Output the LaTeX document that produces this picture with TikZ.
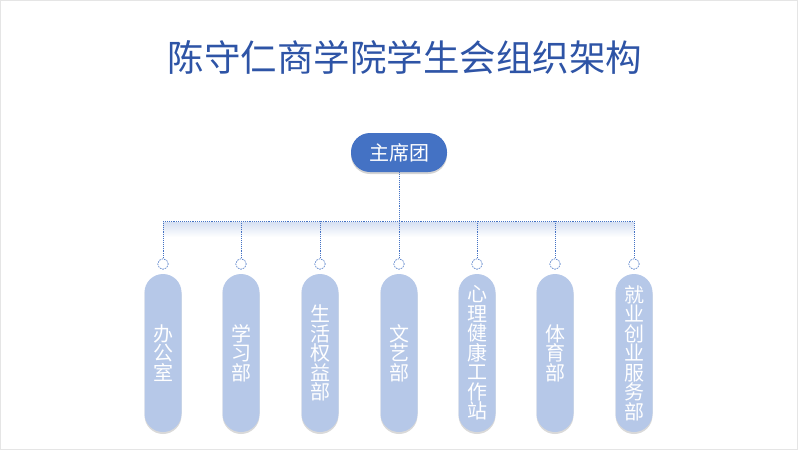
\documentclass[tikz,border=0pt]{standalone}
\usepackage{fontspec}
\newfontfamily\cjk{Noto Sans CJK SC}
\usepackage{xcolor}
\usetikzlibrary{shadows,positioning}
\definecolor{titleblue}{RGB}{46,84,166}
\definecolor{headblue}{RGB}{68,114,196}
\definecolor{pillblue}{RGB}{182,200,232}

\begin{document}
\begin{tikzpicture}[x=1pt,y=-1pt,font=\cjk,
  head/.style={fill=headblue,text=white,rounded corners=19pt,minimum width=96pt,minimum height=39pt,
    font=\cjk\fontsize{20}{22}\selectfont,drop shadow={opacity=0.35,shadow xshift=0pt,shadow yshift=-2pt}},
  dept/.style={fill=pillblue,text=white,rounded corners=18.5pt,minimum width=37pt,minimum height=158pt,
    inner sep=0pt,align=center,font=\cjk\fontsize{20}{19.5}\selectfont,
    drop shadow={opacity=0.3,shadow xshift=0pt,shadow yshift=-2pt}},
  knob/.style={circle,draw=headblue,dash pattern=on 1.6pt off 1pt,fill=white,inner sep=0pt,minimum size=10.5pt,line width=0.6pt},
  link/.style={headblue,densely dotted,line width=0.9pt}]
\useasboundingbox (0,0) rectangle (798,451);
\draw[gray!20,line width=1pt](0.5,0.5) rectangle (797.5,449.5);
% title
\node[text=titleblue,font=\cjk\fontsize{36.5}{40}\selectfont] (title) at (405,57) {陈守仁商学院学生会组织架构};
% top box and bar
\node[head] (top) at (399,152.5) {主席团};
\coordinate (barL) at (163,221);
\coordinate (barR) at (634,221);
\fill[top color=headblue!22,bottom color=white](163,222) rectangle (634,237);
\draw[link](barL)--(barR);
\draw[link](top)--(top |- barL);
% departments
\foreach \n/\x/\t in {a/163/{办\\公\\室},b/241/{学\\习\\部},c/320/{生\\活\\权\\益\\部},d/399/{文\\艺\\部},
  e/477/{心\\理\\健\\康\\工\\作\\站},f/555/{体\\育\\部},g/634/{就\\业\\创\\业\\服\\务\\部}}{
\node[dept] (dept\n) at (\x,353) {\t};
\node[knob] (knob\n) at (\x,264) {};
\draw[link](knob\n |- barL)--(knob\n);}
\end{tikzpicture}
\end{document}
